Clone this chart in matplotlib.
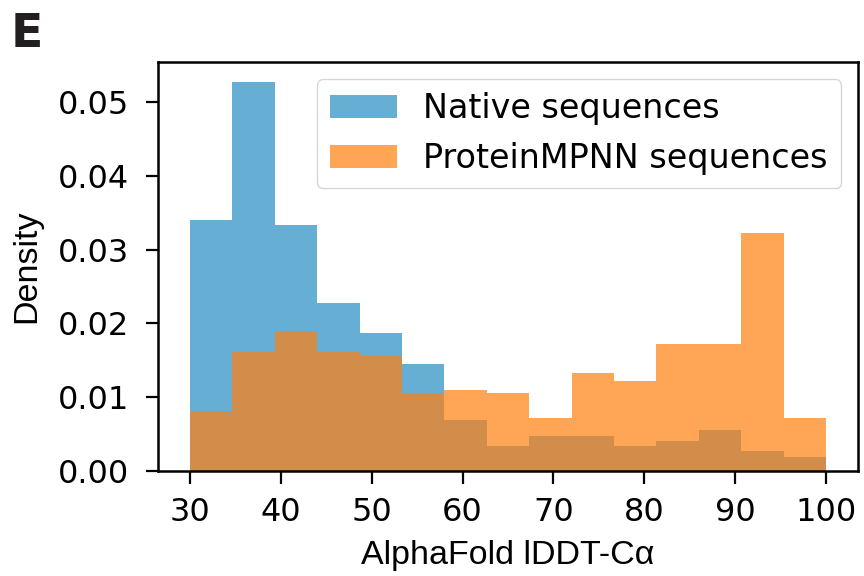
import numpy as np
import matplotlib
matplotlib.use("Agg")
import matplotlib.pyplot as plt

# bin edges of the histogram (15 bins from 30 to 100)
bin_edges = np.linspace(30, 100, 16)

# density per bin
native_density = [0.0340, 0.0528, 0.0333, 0.0228, 0.0187, 0.0145, 0.0069, 0.0033,
                  0.0047, 0.0047, 0.0033, 0.0040, 0.0055, 0.0027, 0.0019]
mpnn_density = [0.0081, 0.0161, 0.0189, 0.0161, 0.0155, 0.0106, 0.0110, 0.0106,
                0.0072, 0.0133, 0.0122, 0.0172, 0.0172, 0.0323, 0.0072]

labels = ["Native sequences", "ProteinMPNN sequences"]


def main():
    centers = (bin_edges[:-1] + bin_edges[1:]) / 2

    fig = plt.figure(figsize=(8.64, 5.76), dpi=100)
    ax = fig.add_axes([0.183, 0.183, 0.810, 0.709])

    ax.hist(centers, bins=bin_edges, weights=native_density, alpha=0.7,
            color="#268cc4", label=labels[0])
    ax.hist(centers, bins=bin_edges, weights=mpnn_density, alpha=0.7,
            color="#ff7f0e", label=labels[1])

    ax.set_xticks([30, 40, 50, 60, 70, 80, 90, 100])
    ax.set_yticks([0.0, 0.01, 0.02, 0.03, 0.04, 0.05])
    ax.yaxis.set_major_formatter(matplotlib.ticker.FormatStrFormatter('%.2f'))
    ax.tick_params(labelsize=23, length=9, width=1.6)
    ax.tick_params(axis='x', pad=10)
    ax.tick_params(axis='y', pad=12)
    for s in ax.spines.values():
        s.set_linewidth(1.8)

    ax.set_xlabel("AlphaFold lDDT-C\u03b1", fontsize=24.5, family=["Liberation Sans", "DejaVu Sans"], labelpad=9)
    ax.set_ylabel("Density", fontsize=24.5, family=["Liberation Sans", "DejaVu Sans"], labelpad=11)

    ax.legend(loc="upper right", fontsize=24)

    fig.text(0.012, 0.918, "E", fontsize=34, fontweight="bold",
             family=["Liberation Sans Narrow", "DejaVu Sans"], color="#231f20")

    fig.savefig("out.png", dpi=100)


if __name__ == "__main__":
    main()
